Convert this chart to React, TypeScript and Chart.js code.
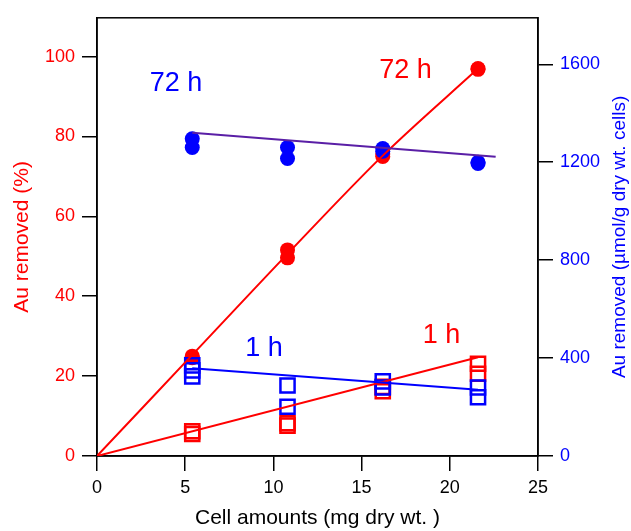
import React, { useEffect, useRef } from 'react';
import { Chart, registerables } from 'chart.js';

Chart.register(...registerables);

// ---- Data ----
const xTicksMax = 25;
const leftMax = 109.7;
const rightMax = 1790;

// 72 h, Au removed (%) – filled red circles
const red72X = [5.4, 5.4, 10.8, 10.8, 16.2, 16.2, 21.6, 21.6];
const red72Y = [25.0, 24.6, 51.6, 49.6, 75.6, 75.0, 97.0, 96.8];
const red72FitX = [0, 5.4, 10.8, 16.2, 21.6];
const red72FitY = [0, 25.3, 50.6, 75.2, 97.0];

// 72 h, Au removed (µmol/g) – filled blue circles
const blue72X = [5.4, 5.4, 10.8, 10.8, 16.2, 16.2, 21.6, 21.6];
const blue72Y = [1296, 1260, 1260, 1215, 1256, 1245, 1200, 1195];
const blue72FitX = [5.4, 22.6];
const blue72FitY = [1320, 1222];

// 1 h, Au removed (%) – open red squares
const red1X = [5.4, 5.4, 10.8, 10.8, 16.2, 16.2, 21.6, 21.6];
const red1Y = [6.2, 5.5, 8.2, 7.6, 17.3, 16.2, 23.1, 20.6];
const red1FitX = [0, 21.6];
const red1FitY = [0, 24.7];

// 1 h, Au removed (µmol/g) – open blue squares
const blue1X = [5.4, 5.4, 5.4, 10.8, 10.8, 16.2, 16.2, 21.6, 21.6];
const blue1Y = [370, 350, 325, 288, 201, 305, 280, 280, 240];
const blue1FitX = [5.4, 21.6];
const blue1FitY = [358, 271];

// Annotations (data coordinates on x / left y axis)
const annoText = ['72 h', '72 h', '1 h', '1 h'];
const annoX = [4.48, 17.49, 9.47, 19.53];
const annoY = [93.2, 96.6, 26.9, 30.1];
const annoColor = ['#0000ff', '#ff0000', '#0000ff', '#ff0000'];

const xTitle = 'Cell amounts (mg dry wt. )';
const leftTitle = 'Au removed (%)';
const rightTitle = 'Au removed (µmol/g dry wt. cells)';

const RED = '#ff0000';
const BLUE = '#0000ff';
const PURPLE = '#5a1fa6';
const FONT = "'Liberation Sans', Arial, sans-serif";

const pts = (xs: number[], ys: number[]) => xs.map((x, i) => ({ x, y: ys[i] }));

const framePlugin = {
  id: 'frame',
  beforeDatasetsDraw(chart: any) {
    const { ctx, chartArea } = chart;
    ctx.save();
    ctx.strokeStyle = '#000';
    ctx.lineWidth = 1.5;
    ctx.strokeRect(chartArea.left, chartArea.top, chartArea.right - chartArea.left, chartArea.bottom - chartArea.top);
    ctx.restore();
  },
};

const annoPlugin = {
  id: 'anno',
  afterDatasetsDraw(chart: any) {
    const { ctx, scales } = chart;
    ctx.save();
    ctx.font = `27px ${FONT}`;
    ctx.textAlign = 'center';
    ctx.textBaseline = 'middle';
    annoText.forEach((t, i) => {
      ctx.fillStyle = annoColor[i];
      ctx.fillText(t, scales.x.getPixelForValue(annoX[i]), scales.y.getPixelForValue(annoY[i]));
    });
    ctx.restore();
  },
};

const rightTitlePlugin = {
  id: 'rightTitle',
  afterDraw(chart: any) {
    const { ctx, chartArea } = chart;
    ctx.save();
    ctx.translate(620, (chartArea.top + chartArea.bottom) / 2);
    ctx.rotate(-Math.PI / 2);
    ctx.font = `19px ${FONT}`;
    ctx.fillStyle = BLUE;
    ctx.textAlign = 'center';
    ctx.textBaseline = 'middle';
    ctx.fillText(rightTitle, 0, 0);
    ctx.restore();
  },
};

export default function App() {
  const ref = useRef<HTMLCanvasElement>(null);
  useEffect(() => {
    if (!ref.current) return;
    const circle = (color: string) => ({
      showLine: false,
      pointStyle: 'circle',
      pointRadius: 7.5,
      pointBackgroundColor: color,
      pointBorderColor: color,
      pointBorderWidth: 0,
    });
    const square = (color: string) => ({
      showLine: false,
      pointStyle: 'rect',
      pointRadius: 10,
      pointBackgroundColor: 'rgba(0,0,0,0)',
      pointBorderColor: color,
      pointBorderWidth: 2.5,
    });
    const line = (color: string) => ({
      showLine: true,
      pointRadius: 0,
      borderColor: color,
      borderWidth: 2,
      fill: false,
    });
    const chart = new Chart(ref.current, {
      type: 'scatter',
      data: {
        datasets: [
          { data: pts(red72X, red72Y), yAxisID: 'y', order: 8, ...circle(RED) },
          { data: pts(blue72X, blue72Y), yAxisID: 'y2', order: 7, ...circle(BLUE) },
          { data: pts(red1X, red1Y), yAxisID: 'y', order: 6, ...square(RED) },
          { data: pts(blue1X, blue1Y), yAxisID: 'y2', order: 5, ...square(BLUE) },
          { data: pts(red72FitX, red72FitY), yAxisID: 'y', order: 4, cubicInterpolationMode: 'monotone', ...line(RED) },
          { data: pts(blue72FitX, blue72FitY), yAxisID: 'y2', order: 3, ...line(PURPLE) },
          { data: pts(red1FitX, red1FitY), yAxisID: 'y', order: 2, ...line(RED) },
          { data: pts(blue1FitX, blue1FitY), yAxisID: 'y2', order: 1, ...line(BLUE) },
        ] as any,
      },
      options: {
        responsive: false,
        animation: false,
        devicePixelRatio: 1,
        layout: { padding: { top: 15, left: 0, right: 0, bottom: 0 } },
        plugins: { legend: { display: false }, tooltip: { enabled: false } },
        scales: {
          x: {
            type: 'linear',
            min: 0,
            max: xTicksMax,
            ticks: { stepSize: 5, color: '#000', font: { family: FONT, size: 18 }, padding: 6 },
            grid: { drawOnChartArea: false, drawTicks: true, tickLength: 15, color: '#000', lineWidth: 1.5 },
            border: { display: true, color: '#000', width: 1.5 },
            title: {
              display: true,
              text: xTitle,
              color: '#000',
              font: { family: FONT, size: 21 },
              padding: { top: 0, bottom: 0 },
            },
            afterFit: (s: any) => { s.height = 75; },
          },
          y: {
            type: 'linear',
            position: 'left',
            min: 0,
            max: leftMax,
            ticks: { stepSize: 20, includeBounds: false, color: RED, font: { family: FONT, size: 18 }, padding: 7 },
            grid: { drawOnChartArea: false, drawTicks: true, tickLength: 15, color: '#000', lineWidth: 1.5 },
            border: { display: true, color: '#000', width: 1.5 },
            title: {
              display: true,
              text: leftTitle,
              color: RED,
              font: { family: FONT, size: 21 },
              padding: { top: 9.5, bottom: 0 },
            },
            afterFit: (s: any) => { s.width = 97; },
          },
          y2: {
            type: 'linear',
            position: 'right',
            min: 0,
            max: rightMax,
            ticks: {
              stepSize: 400,
              includeBounds: false,
              color: BLUE,
              font: { family: FONT, size: 18 },
              padding: 7,
              callback: (v: any) => String(v),
            },
            grid: { drawOnChartArea: false, drawTicks: true, tickLength: 15, color: '#000', lineWidth: 1.5 },
            border: { display: true, color: '#000', width: 1.5 },
            title: { display: false },
            afterFit: (s: any) => { s.width = 93; },
          },
        },
      } as any,
      plugins: [framePlugin, annoPlugin, rightTitlePlugin],
    });
    return () => chart.destroy();
  }, []);
  return (
    <div style={{ position: 'absolute', left: 0, top: 0, width: 631, height: 531, background: '#fff' }}>
      <canvas ref={ref} width={631} height={531} style={{ display: 'block' }} />
    </div>
  );
}
